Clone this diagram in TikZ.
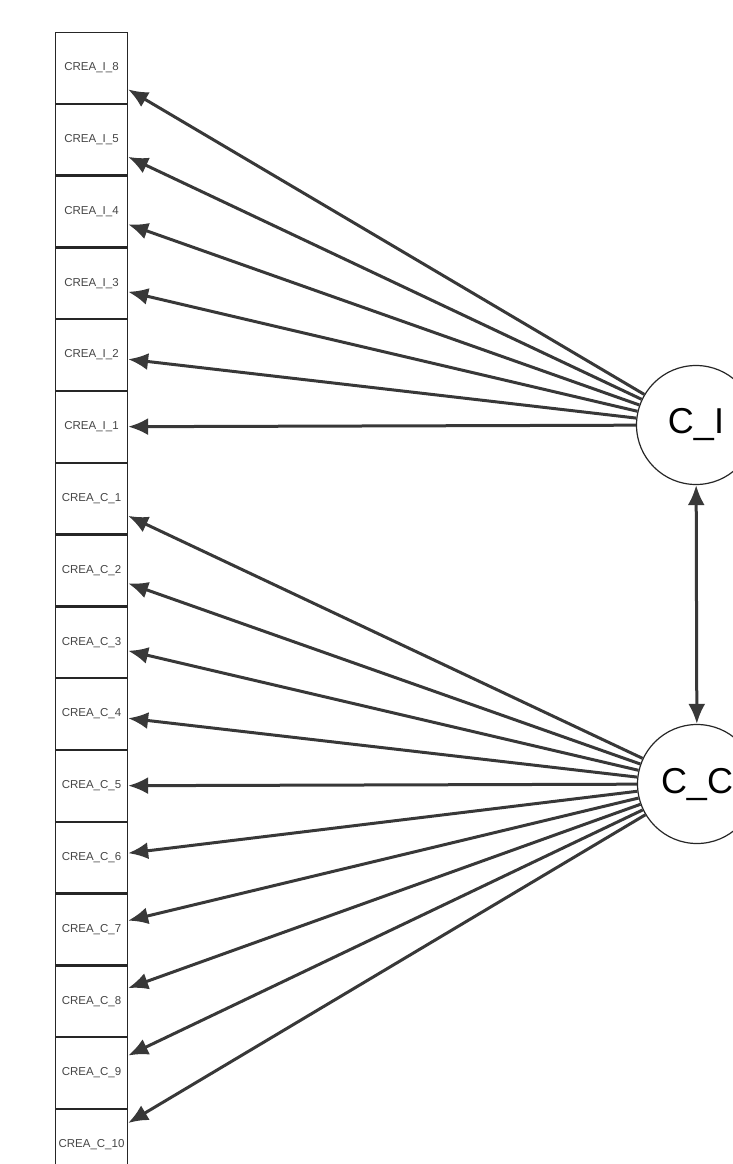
\documentclass[tikz,border=0pt]{standalone}
\usepackage{fontspec}
\setmainfont{Liberation Sans}
\usepackage{tikz}
\usetikzlibrary{arrows.meta,positioning}
\definecolor{edgegray}{HTML}{383838}
\definecolor{textgray}{HTML}{454545}

\begin{document}
\begin{tikzpicture}[
    x=1pt, y=1pt,
    >={Latex[length=20pt,width=17pt]},
    item/.style={
		rectangle,
		draw=black!85,
		line width=1.2pt,
		text centered,
		minimum width=72pt,
		minimum height=70.6pt,
		inner sep=0pt,
		font=\fontsize{11.5}{13}\selectfont,
		text=textgray
	},
	factor/.style={
		circle,
		draw=black!85,
		line width=1.2pt,
		minimum size=119pt,
		inner sep=0pt,
		fill=white,
		font=\fontsize{36}{40}\selectfont
	},
	loading/.style={
		->,
		draw=edgegray,
		line width=3pt
	}
  ]
  \useasboundingbox (0,0) rectangle (732,-1164);
    % the observed items

  \node [item] (i8) at (91.5,-67.8) {CREA\_I\_8};
  \node [item, below=0pt of i8] (i5) {CREA\_I\_5};
  \node [item, below=0pt of i5] (i4) {CREA\_I\_4};
  \node [item, below=0pt of i4] (i3) {CREA\_I\_3};
  \node [item, below=0pt of i3] (i2) {CREA\_I\_2};
  \node [item, below=0pt of i2] (i1) {CREA\_I\_1};
  \node [item, below=0pt of i1] (c1) {CREA\_C\_1};
  \node [item, below=0pt of c1] (c2) {CREA\_C\_2};
  \node [item, below=0pt of c2] (c3) {CREA\_C\_3};
  \node [item, below=0pt of c3] (c4) {CREA\_C\_4};
  \node [item, below=0pt of c4] (c5) {CREA\_C\_5};
  \node [item, below=0pt of c5] (c6) {CREA\_C\_6};
  \node [item, below=0pt of c6] (c7) {CREA\_C\_7};
  \node [item, below=0pt of c7] (c8) {CREA\_C\_8};
  \node [item, below=0pt of c8] (c9) {CREA\_C\_9};
  \node [item, below=0pt of c9] (c10) {CREA\_C\_10};

    % the two factors
  \node [factor] (ci) at (696,-425) {C\_I};
  \node [factor] (cc) at (697,-784) {C\_C};

  \draw [loading] (ci) -- (i8);
  \draw [loading] (ci) -- (i5);
  \draw [loading] (ci) -- (i4);
  \draw [loading] (ci) -- (i3);
  \draw [loading] (ci) -- (i2);
  \draw [loading] (ci) -- (i1);

  \draw [loading] (cc) -- (c1);
  \draw [loading] (cc) -- (c2);
  \draw [loading] (cc) -- (c3);
  \draw [loading] (cc) -- (c4);
  \draw [loading] (cc) -- (c5);
  \draw [loading] (cc) -- (c6);
  \draw [loading] (cc) -- (c7);
  \draw [loading] (cc) -- (c8);
  \draw [loading] (cc) -- (c9);
  \draw [loading] (cc) -- (c10);

  \draw [loading, <->] (ci) -- (cc);

\end{tikzpicture}
\end{document}
